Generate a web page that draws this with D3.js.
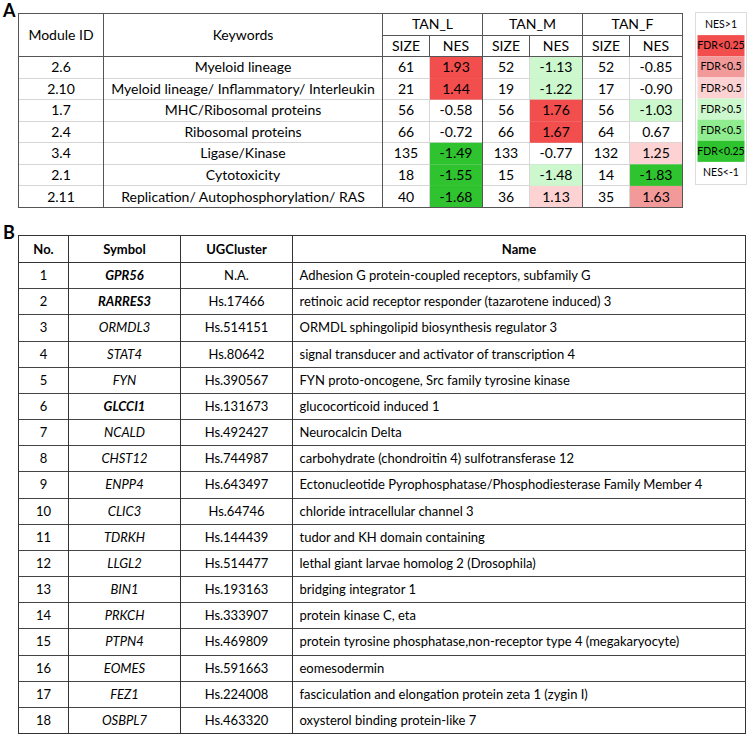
<!DOCTYPE html>
<html>
<head>
<meta charset="utf-8">
<script src="https://cdn.jsdelivr.net/npm/d3@7"></script>
<style>
  html, body { margin: 0; padding: 0; background: #fff; }
  svg { display: block; }
  text { font-family: Lato, "Open Sans", sans-serif; fill: #000; }
</style>
</head>
<body>
<div id="chart"></div>
<script>
// ---- Panel A data ----
const moduleIds = ['2.6', '2.10', '1.7', '2.4', '3.4', '2.1', '2.11'];
const keywords = [
  'Myeloid lineage',
  'Myeloid lineage/ Inflammatory/ Interleukin',
  'MHC/Ribosomal proteins',
  'Ribosomal proteins',
  'Ligase/Kinase',
  'Cytotoxicity',
  'Replication/ Autophosphorylation/ RAS',
];
const groups = ['TAN_L', 'TAN_M', 'TAN_F'];
const sizeL = [61, 21, 56, 66, 135, 18, 40];
const nesL = ['1.93', '1.44', '-0.58', '-0.72', '-1.49', '-1.55', '-1.68'];
const sizeM = [52, 19, 56, 66, 133, 15, 36];
const nesM = ['-1.13', '-1.22', '1.76', '1.67', '-0.77', '-1.48', '1.13'];
const sizeF = [52, 17, 56, 64, 132, 14, 35];
const nesF = ['-0.85', '-0.90', '-1.03', '0.67', '1.25', '-1.83', '1.63'];
// significance class of each NES cell (colour key)
const classL = ['up25', 'up25', 'none', 'none', 'dn25', 'dn25', 'dn25'];
const classM = ['dnNS', 'dnNS', 'up25', 'up25', 'none', 'dnNS', 'upNS'];
const classF = ['none', 'none', 'dnNS', 'none', 'upNS', 'dn25', 'up50'];

const legendLabels = ['NES>1', 'FDR<0.25', 'FDR<0.5', 'FDR>0.5', 'FDR>0.5', 'FDR<0.5', 'FDR<0.25', 'NES<-1'];
const legendClasses = ['none', 'up25', 'up50', 'upNS', 'dnNS', 'dn50', 'dn25', 'none'];

// ---- Panel B data ----
const geneNo = d3.range(1, 19);
const symbols = ['GPR56', 'RARRES3', 'ORMDL3', 'STAT4', 'FYN', 'GLCCI1', 'NCALD', 'CHST12', 'ENPP4',
  'CLIC3', 'TDRKH', 'LLGL2', 'BIN1', 'PRKCH', 'PTPN4', 'EOMES', 'FEZ1', 'OSBPL7'];
const boldSymbols = ['GPR56', 'RARRES3', 'GLCCI1'];
const ugClusters = ['N.A.', 'Hs.17466', 'Hs.514151', 'Hs.80642', 'Hs.390567', 'Hs.131673', 'Hs.492427',
  'Hs.744987', 'Hs.643497', 'Hs.64746', 'Hs.144439', 'Hs.514477', 'Hs.193163', 'Hs.333907',
  'Hs.469809', 'Hs.591663', 'Hs.224008', 'Hs.463320'];
const geneNames = [
  'Adhesion G protein-coupled receptors, subfamily G',
  'retinoic acid receptor responder (tazarotene induced) 3',
  'ORMDL sphingolipid biosynthesis regulator 3',
  'signal transducer and activator of transcription 4',
  'FYN proto-oncogene, Src family tyrosine kinase',
  'glucocorticoid induced 1',
  'Neurocalcin Delta',
  'carbohydrate (chondroitin 4) sulfotransferase 12',
  'Ectonucleotide Pyrophosphatase/Phosphodiesterase Family Member 4',
  'chloride intracellular channel 3',
  'tudor and KH domain containing',
  'lethal giant larvae homolog 2 (Drosophila)',
  'bridging integrator 1',
  'protein kinase C, eta',
  'protein tyrosine phosphatase,non-receptor type 4 (megakaryocyte)',
  'eomesodermin',
  'fasciculation and elongation protein zeta 1 (zygin I)',
  'oxysterol binding protein-like 7',
];
const headersB = ['No.', 'Symbol', 'UGCluster', 'Name'];

const color = d3.scaleOrdinal()
  .domain(['none', 'up25', 'up50', 'upNS', 'dnNS', 'dn50', 'dn25'])
  .range(['#ffffff', '#f24e4e', '#f29a9a', '#fcd2d2', '#cdf7cd', '#8fec8f', '#2fc42f']);

const W = 750, H = 737;
const svg = d3.select('#chart').append('svg').attr('width', W).attr('height', H);

const dark = '#555', light = '#d6d6d6';

function hline(g, x1, x2, y, stroke) {
  g.append('line').attr('x1', x1).attr('x2', x2).attr('y1', y).attr('y2', y)
    .attr('stroke', stroke).attr('stroke-width', 1).attr('shape-rendering', 'crispEdges');
}
function vline(g, x, y1, y2, stroke) {
  g.append('line').attr('x1', x).attr('x2', x).attr('y1', y1).attr('y2', y2)
    .attr('stroke', stroke).attr('stroke-width', 1).attr('shape-rendering', 'crispEdges');
}

// ================= Panel A =================
const a = svg.append('g');
a.append('text').attr('x', 3).attr('y', 17).attr('font-family', 'Liberation Sans, Arial, sans-serif')
  .attr('font-weight', 'bold').attr('font-size', 18).text('A');

const aTop = 13.5, aHead2 = 35, aHeadEnd = 56.5, aBottom = 207.5;
// column edges: module, keywords, then SIZE/NES for each group
const aCols = ['id', 'kw', 'sL', 'nL', 'sM', 'nM', 'sF', 'nF'];
const aEdges = [18.5, 103.5, 382.5, 429.5, 482.5, 529.5, 582.5, 629.5, 682.5];
const colX = d3.scaleOrdinal().domain(aCols).range(aEdges.slice(0, -1));
const colW = d3.scaleOrdinal().domain(aCols).range(aEdges.slice(1).map((e, i) => e - aEdges[i]));
const rowY = d3.scaleBand().domain(moduleIds).range([aHeadEnd, aBottom]);

const rowsA = moduleIds.map((id, i) => ({
  id, kw: keywords[i],
  cells: [
    { col: 'sL', text: sizeL[i], cls: 'none' }, { col: 'nL', text: nesL[i], cls: classL[i] },
    { col: 'sM', text: sizeM[i], cls: 'none' }, { col: 'nM', text: nesM[i], cls: classM[i] },
    { col: 'sF', text: sizeF[i], cls: 'none' }, { col: 'nF', text: nesF[i], cls: classF[i] },
  ],
}));

// row separators (light)
rowsA.forEach((r, i) => { if (i > 0) hline(a, aEdges[0], aEdges[8], rowY(r.id), light); });

// coloured cells
rowsA.forEach((r) => {
  r.cells.filter((c) => c.cls !== 'none').forEach((c) => {
    a.append('rect').attr('x', colX(c.col)).attr('y', rowY(r.id))
      .attr('width', colW(c.col)).attr('height', rowY.bandwidth())
      .attr('fill', color(c.cls));
  });
});

// inner vertical lines between SIZE and NES (light)
['nL', 'nM', 'nF'].forEach((k) => vline(a, colX(k), aHeadEnd, aBottom, light));
['nL', 'nM', 'nF'].forEach((k) => vline(a, colX(k), aHead2, aHeadEnd, dark));
// dark structure lines
['kw', 'sL', 'sM', 'sF'].forEach((k) => vline(a, colX(k), aTop, aBottom, dark));
hline(a, aEdges[2], aEdges[8], aHead2, dark);
hline(a, aEdges[0], aEdges[8], aHeadEnd, dark);
a.append('rect').attr('x', aEdges[0]).attr('y', aTop).attr('width', aEdges[8] - aEdges[0])
  .attr('height', aBottom - aTop).attr('fill', 'none').attr('stroke', dark).attr('shape-rendering', 'crispEdges');

const fsA = 14;
// headers
a.append('text').attr('x', colX('id') + colW('id') / 2).attr('y', (aTop + aHeadEnd) / 2)
  .attr('text-anchor', 'middle').attr('dy', '0.35em').attr('font-size', fsA).text('Module ID');
a.append('text').attr('x', colX('kw') + colW('kw') / 2).attr('y', (aTop + aHeadEnd) / 2)
  .attr('text-anchor', 'middle').attr('dy', '0.35em').attr('font-size', fsA).text('Keywords');
groups.forEach((gname, gi) => {
  const x0 = aEdges[2 + gi * 2], x1 = aEdges[4 + gi * 2];
  a.append('text').attr('x', (x0 + x1) / 2).attr('y', (aTop + aHead2) / 2).attr('dy', '0.35em')
    .attr('text-anchor', 'middle').attr('font-size', fsA).text(gname);
});
['sL', 'nL', 'sM', 'nM', 'sF', 'nF'].forEach((k, i) => {
  a.append('text').attr('x', colX(k) + colW(k) / 2).attr('y', (aHead2 + aHeadEnd) / 2).attr('dy', '0.35em')
    .attr('text-anchor', 'middle').attr('font-size', fsA).text(i % 2 === 0 ? 'SIZE' : 'NES');
});

// body text
rowsA.forEach((r) => {
  const cy = rowY(r.id) + rowY.bandwidth() / 2;
  a.append('text').attr('x', colX('id') + colW('id') / 2).attr('y', cy).attr('dy', '0.35em')
    .attr('text-anchor', 'middle').attr('font-size', fsA).text(r.id);
  a.append('text').attr('x', colX('kw') + colW('kw') / 2).attr('y', cy).attr('dy', '0.35em')
    .attr('text-anchor', 'middle').attr('font-size', fsA).text(r.kw);
  r.cells.forEach((c) => {
    a.append('text').attr('x', colX(c.col) + colW(c.col) / 2).attr('y', cy).attr('dy', '0.35em')
      .attr('text-anchor', 'middle').attr('font-size', fsA).text(c.text);
  });
});

// legend
const legY = d3.scaleBand().domain(d3.range(legendLabels.length)).range([14, 183]);
const legX = 695.5, legW = 51;
const leg = svg.append('g');
leg.append('rect').attr('x', legX).attr('y', 12.5).attr('width', legW).attr('height', 172)
  .attr('fill', '#fff').attr('stroke', '#dcdcdc').attr('shape-rendering', 'crispEdges');
legendLabels.forEach((lab, i) => {
  if (legendClasses[i] !== 'none') {
    leg.append('rect').attr('x', legX + 2).attr('y', legY(i)).attr('width', legW - 4)
      .attr('height', legY.bandwidth()).attr('fill', color(legendClasses[i]));
  }
  leg.append('text').attr('x', legX + legW / 2).attr('y', legY(i) + legY.bandwidth() / 2)
    .attr('dy', '0.35em').attr('text-anchor', 'middle').attr('font-size', 10.5).text(lab);
});

// ================= Panel B =================
const b = svg.append('g');
b.append('text').attr('x', 3).attr('y', 239).attr('font-family', 'Liberation Sans, Arial, sans-serif')
  .attr('font-weight', 'bold').attr('font-size', 18).text('B');

const bTop = 235.5, bHeadEnd = 262.5, bBottom = 733.5;
const bEdges = [18.5, 68.5, 180.5, 292.5, 745.5];
const bRowY = d3.scaleBand().domain(geneNo).range([bHeadEnd, bBottom]);
const fsB = 13;

b.append('rect').attr('x', bEdges[0]).attr('y', bTop).attr('width', bEdges[4] - bEdges[0])
  .attr('height', bBottom - bTop).attr('fill', 'none').attr('stroke', '#333').attr('shape-rendering', 'crispEdges');
hline(b, bEdges[0], bEdges[4], bHeadEnd, '#333');
geneNo.forEach((n, i) => { if (i > 0) hline(b, bEdges[0], bEdges[4], bRowY(n), '#444'); });
bEdges.slice(1, 4).forEach((x) => vline(b, x, bTop, bBottom, '#333'));

headersB.forEach((h, i) => {
  b.append('text').attr('x', (bEdges[i] + bEdges[i + 1]) / 2).attr('y', (bTop + bHeadEnd) / 2)
    .attr('dy', '0.35em').attr('text-anchor', 'middle').attr('font-weight', 'bold')
    .attr('font-size', fsB).text(h);
});

geneNo.forEach((n, i) => {
  const cy = bRowY(n) + bRowY.bandwidth() / 2;
  b.append('text').attr('x', (bEdges[0] + bEdges[1]) / 2).attr('y', cy).attr('dy', '0.35em')
    .attr('text-anchor', 'middle').attr('font-size', fsB).text(n);
  b.append('text').attr('x', (bEdges[1] + bEdges[2]) / 2).attr('y', cy).attr('dy', '0.35em')
    .attr('text-anchor', 'middle').attr('font-size', fsB).attr('font-style', 'italic')
    .attr('font-weight', boldSymbols.includes(symbols[i]) ? 'bold' : 'normal').text(symbols[i]);
  b.append('text').attr('x', (bEdges[2] + bEdges[3]) / 2).attr('y', cy).attr('dy', '0.35em')
    .attr('text-anchor', 'middle').attr('font-size', fsB).text(ugClusters[i]);
  b.append('text').attr('x', bEdges[3] + 7).attr('y', cy).attr('dy', '0.35em')
    .attr('font-size', fsB).text(geneNames[i]);
});
</script>
</body>
</html>
